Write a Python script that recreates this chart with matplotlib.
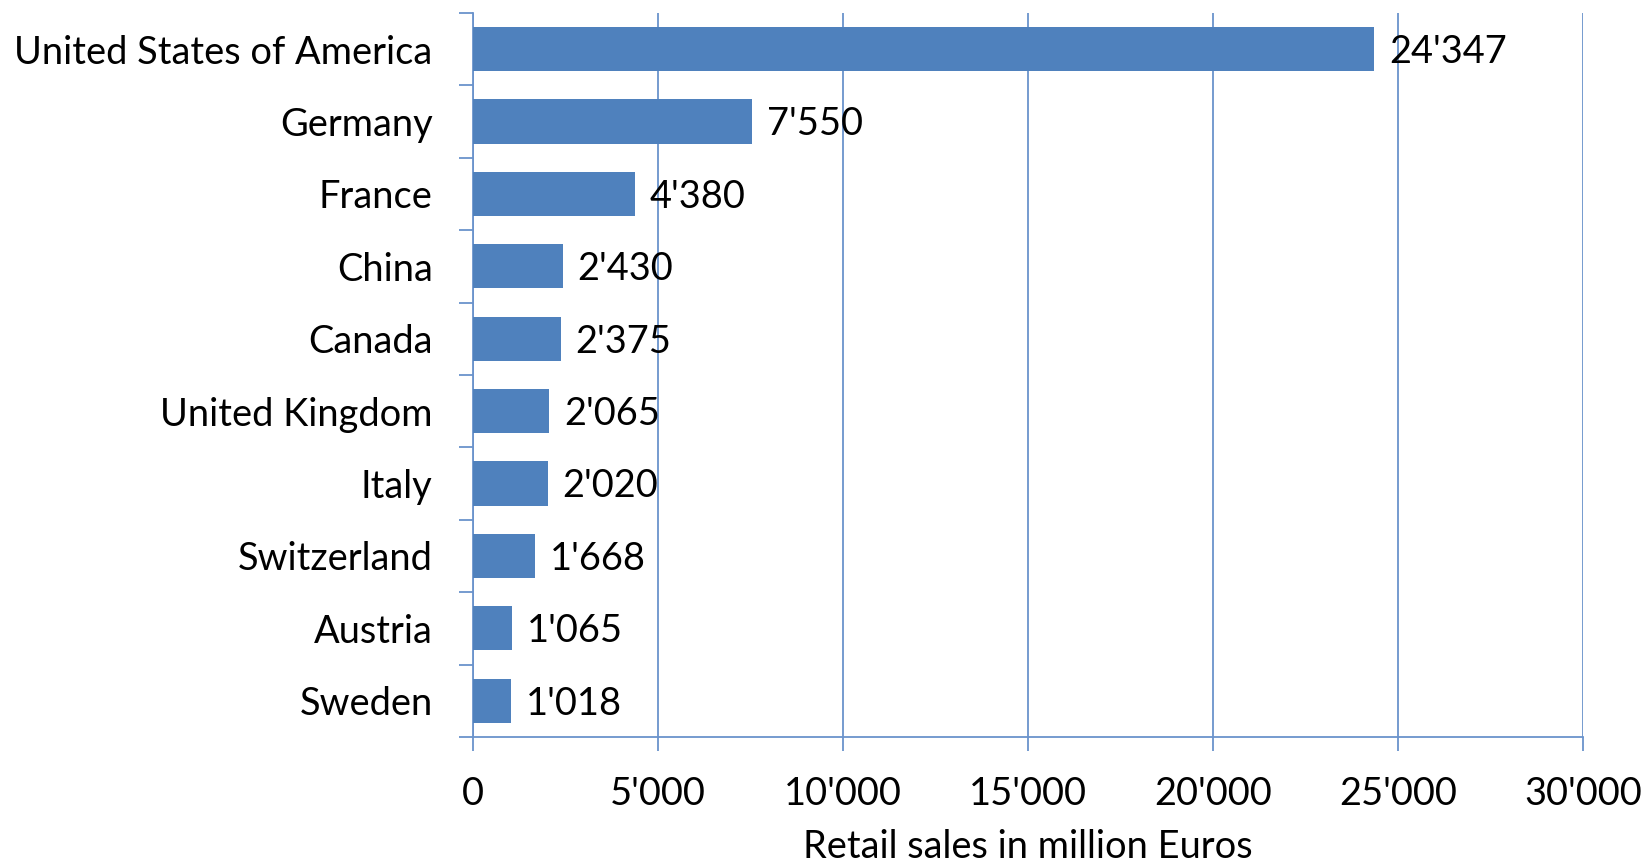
import numpy as np
import matplotlib
matplotlib.use("Agg")
import matplotlib.pyplot as plt
from matplotlib.ticker import FuncFormatter, FixedLocator

countries = ["United States of America", "Germany", "France", "China", "Canada",
             "United Kingdom", "Italy", "Switzerland", "Austria", "Sweden"]
sales = [24347, 7550, 4380, 2430, 2375, 2065, 2020, 1668, 1065, 1018]
x_ticks = [0, 5000, 10000, 15000, 20000, 25000, 30000]


def fmt(v):
    return "{:,}".format(int(v)).replace(",", "'")


plt.rcParams['font.family'] = ['Lato', 'DejaVu Sans']
blue = "#4F81BD"
grid_blue = "#6A93CC"
fs = 27.4

fig = plt.figure(figsize=(16.44, 8.64), dpi=100)
ax = fig.add_axes([0.2877, 0.147, 0.963 - 0.2877, 0.838])

y = np.arange(len(countries))
ax.barh(y, sales, height=0.61, color=blue, zorder=3)
for yi, v in zip(y, sales):
    ax.text(v + 400, yi + 0.04, fmt(v), va="center", ha="left", fontsize=fs, zorder=4)

ax.set_xlim(0, 30000)
ax.set_ylim(len(countries) - 0.5, -0.5)
ax.set_xticks(x_ticks)
ax.xaxis.set_major_formatter(FuncFormatter(lambda v, p: fmt(v)))
ax.set_yticks(y)
ax.set_yticklabels(countries)
ax.yaxis.set_minor_locator(FixedLocator(np.arange(-0.5, len(countries), 1.0)))

ax.tick_params(axis="y", which="major", length=0, pad=29, labelsize=fs)
ax.tick_params(axis="y", which="minor", length=10, width=1.3, color=grid_blue)
ax.tick_params(axis="x", length=10, width=1.3, color=grid_blue, pad=18, labelsize=fs)

ax.grid(axis="x", color=grid_blue, linewidth=1.3, zorder=0)
for s in ["top", "right"]:
    ax.spines[s].set_visible(False)
for s in ["left", "bottom"]:
    ax.spines[s].set_color(grid_blue)
    ax.spines[s].set_linewidth(1.3)

ax.set_xlabel("Retail sales in million Euros", fontsize=fs, labelpad=12)

fig.savefig("out.png", dpi=100)
